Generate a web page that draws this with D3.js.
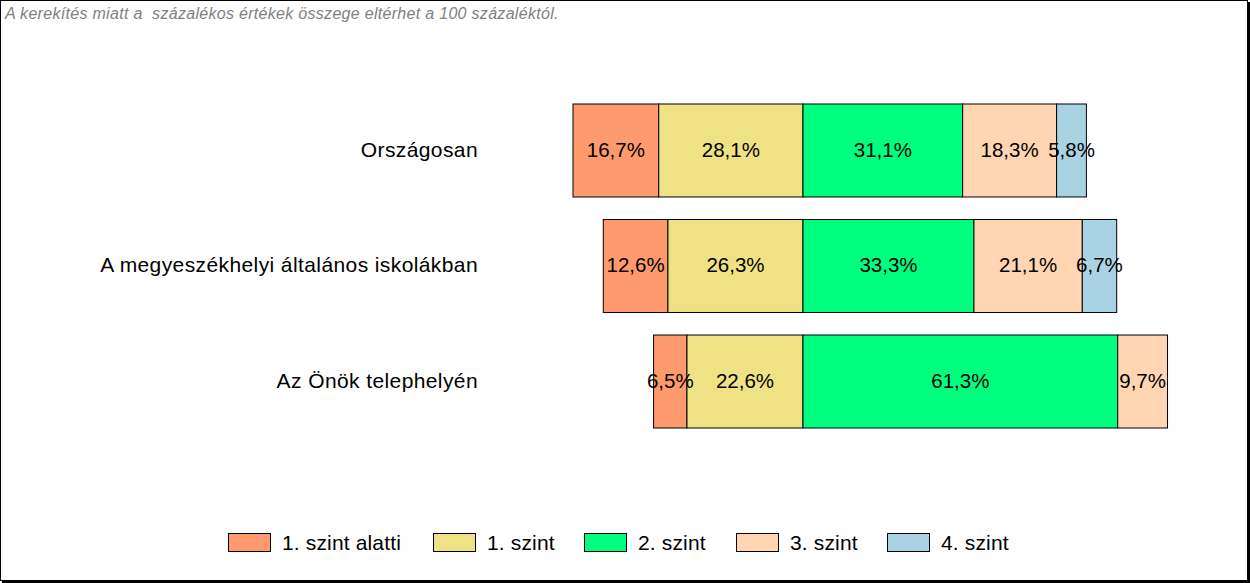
<!DOCTYPE html>
<html><head><meta charset="utf-8">
<script src="https://cdn.jsdelivr.net/npm/d3@7"></script>
<style>body{margin:0;background:#fff}svg{display:block;font-family:"Liberation Sans",Arial,sans-serif}</style>
</head><body><svg id="c" width="1250" height="583"></svg>
<script>
const categories = ["Országosan", "A megyeszékhelyi általános iskolákban", "Az Önök telephelyén"];
const seriesNames = ["1. szint alatti", "1. szint", "2. szint", "3. szint", "4. szint"];
const seriesColors = ["#FF9A6E", "#EFE285", "#00FF7F", "#FFD6B1", "#A9D3E3"];
const values = [
  [16.7, 28.1, 31.1, 18.3, 5.8],
  [12.6, 26.3, 33.3, 21.1, 6.7],
  [6.5, 22.6, 61.3, 9.7, 0]
];
const note = "A kerekítés miatt a  százalékos értékek összege eltérhet a 100 százaléktól.";

const svg = d3.select("#c");
svg.append("rect").attr("x",0.5).attr("y",0.5).attr("width",1247).attr("height",580)
  .attr("fill","#fff").attr("stroke","#000").attr("stroke-width",1);
svg.append("rect").attr("x",1247).attr("y",2).attr("width",3).attr("height",581).attr("fill","#000");
svg.append("rect").attr("x",2).attr("y",580).attr("width",1248).attr("height",3).attr("fill","#000");

svg.append("text").attr("x",5).attr("y",18.5).attr("font-size",16).attr("font-style","italic")
  .attr("letter-spacing",0.3).attr("fill","#808080").style("white-space","pre").text(note);

// diverging scale: zero at boundary between series 1 and 2
const x = d3.scaleLinear().domain([-50, 100]).range([803 - 50*5.134, 803 + 100*5.134]);
const y = d3.scaleBand().domain(categories).range([104, 428]).paddingInner(0.195).paddingOuter(0);

categories.forEach((cat, i) => {
  const v = values[i];
  let start = -(v[0] + v[1]);
  const g = svg.append("g");
  v.forEach((val, j) => {
    if (val <= 0) return;
    const x0 = x(start), x1 = x(start + val);
    g.append("rect").attr("x", x0).attr("y", y(cat)).attr("width", x1 - x0).attr("height", y.bandwidth())
      .attr("fill", seriesColors[j]).attr("stroke", "#000").attr("stroke-width", 1);
    start += val;
  });
  start = -(v[0] + v[1]);
  v.forEach((val, j) => {
    if (val <= 0) return;
    const x0 = x(start), x1 = x(start + val);
    g.append("text").attr("x", (x0 + x1) / 2).attr("y", y(cat) + y.bandwidth() / 2 - 1)
      .attr("dy", "0.35em").attr("text-anchor", "middle").attr("font-size", 20.5)
      .text(String(val).replace(".", ",") + "%");
    start += val;
  });
  svg.append("text").attr("x", 478).attr("y", y(cat) + y.bandwidth() / 2 - 1).attr("dy", "0.35em")
    .attr("text-anchor", "end").attr("font-size", 21).attr("letter-spacing", 0.4).text(cat);
});

// legend
const legendX = [228, 433, 584, 736, 887];
seriesNames.forEach((n, j) => {
  svg.append("rect").attr("x", legendX[j] + 0.5).attr("y", 533.5).attr("width", 42).attr("height", 18)
    .attr("fill", seriesColors[j]).attr("stroke", "#000");
  svg.append("text").attr("x", legendX[j] + 54).attr("y", 543).attr("dy", "0.35em")
    .attr("font-size", 21).attr("letter-spacing", 0.15).text(n);
});
</script></body></html>
